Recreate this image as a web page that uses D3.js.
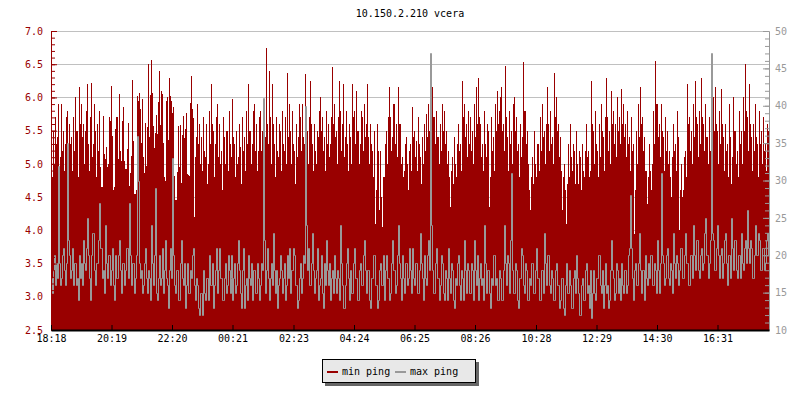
<!DOCTYPE html>
<html><head><meta charset="utf-8">
<script src="https://cdn.jsdelivr.net/npm/d3@7"></script>
<style>
body{margin:0;background:#fff;}
text{font-family:"DejaVu Sans Mono",monospace;font-size:10px;}
</style></head>
<body><svg id="c" width="800" height="400"></svg>
<script>
const title = "10.150.2.210 vcera";
const seriesNames = ["min ping", "max ping"];
const startTime = "18:18";
const spanMinutes = 1436;
const xTickLabels = ["18:18","20:19","22:20","00:21","02:23","04:24","06:25","08:26","10:28","12:29","14:30","16:31"];
const leftTicks = [2.5,3.0,3.5,4.0,4.5,5.0,5.5,6.0,6.5,7.0];
const rightTicks = [10,15,20,25,30,35,40,45,50];

const minPing = [
5.2,4.8,5.5,5.0,5.7,5.3,5.4,5.9,4.7,5.1,5.9,5.2,5.5,4.9,5.3,5.7,5.8,5.1,5.6,5.3,5.4,4.9,5.7,5.2,6.0,5.5,5.5,4.8,6.15,5.6,
5.9,5.4,5.6,5.0,5.5,5.8,6.2,5.3,4.9,5.7,6.22,5.1,5.3,5.9,5.5,4.8,5.6,5.2,5.8,
4.95,4.65,4.65,5.72,5.15,5.07,5.25,4.95,5.0,5.7,
5.65,6.17,5.42,4.6,4.65,5.52,5.7,5.7,5.07,6.05,
5.2,5.05,5.65,5.86,5.05,4.92,4.92,5.22,5.62,4.67,
4.87,5.12,6.26,5.35,4.55,4.55,4.6,6.02,5.94,6.07,
5.82,5.32,5.97,5.1,4.87,5.61,4.97,5.55,6.51,5.4,
6.04,6.56,6.07,5.57,5.24,5.46,5.74,5.45,5.93,6.4,
5.59,6.1,6.05,5.31,4.8,4.75,5.94,6.01,5.36,6.3,
6.02,5.95,5.77,5.85,4.82,4.45,4.45,4.88,5.57,4.96,
5.59,4.71,5.43,5.72,5.39,5.52,5.76,4.85,4.84,4.82,
5.91,6.32,5.83,5.69,4.2,5.1,5.4,5.9,5.3,5.6,
5.0,
5.4,4.9,5.7,5.2,5.1,5.6,4.7,5.0,5.8,5.3,6.2,5.6,5.5,4.8,5.3,5.7,5.9,5.1,5.6,5.0,5.2,4.6,5.7,5.4,5.0,5.5,5.5,4.9,5.8,5.3,
5.6,5.1,5.97,5.4,5.3,4.8,5.5,5.0,5.1,5.6,5.25,4.7,5.7,5.2,5.4,4.9,5.8,5.3,6.2,5.5,5.5,5.0,5.3,5.8,5.9,5.2,5.6,4.9,5.2,5.7,
5.8,5.2,5.5,4.9,5.9,5.4,6.75,5.6,5.3,6.4,5.7,5.0,6.2,5.6,5.3,4.8,5.7,5.2,5.1,5.6,5.5,4.9,5.8,5.3,5.2,5.7,5.0,6.37,5.4,5.9,
5.5,5.0,5.8,5.3,5.2,4.7,5.6,5.1,5.4,5.9,5.7,5.2,5.9,5.4,5.3,6.35,5.8,5.5,5.0,5.7,6.25,5.6,5.3,4.9,5.6,5.2,5.0,5.5,5.4,5.8,
6.0,5.5,5.7,5.2,5.4,4.9,5.8,5.3,5.6,5.1,5.3,5.7,6.46,5.6,5.9,5.4,5.5,5.0,5.7,6.25,5.8,5.2,5.6,6.2,5.1,5.4,5.8,5.3,4.9,5.6,
5.4,5.0,6.2,5.7,5.8,5.3,6.1,5.5,5.5,5.0,5.3,5.8,5.7,5.2,5.9,5.4,5.6,6.2,5.4,5.0,5.6,5.3,5.2,4.8,5.5,4.1,4.6,5.6,5.2,4.3,
5.2,4.5,4.05,4.8,4.8,5.3,5.5,5.0,5.7,6.15,5.7,5.2,5.4,5.9,5.9,5.3,5.6,5.1,6.15,5.6,5.6,5.0,5.1,4.8,4.9,5.3,5.4,5.0,4.6,5.2,
5.3,4.9,5.85,5.4,5.5,5.1,5.35,4.9,5.7,5.3,5.1,4.7,5.4,5.0,5.6,5.2,5.75,5.4,5.9,5.5,5.5,5.1,6.15,5.7,5.7,5.3,5.8,5.4,5.4,5.0,
5.6,5.2,5.9,5.5,5.8,5.3,5.5,5.0,5.2,4.8,4.35,4.9,5.1,4.7,5.4,5.0,4.8,5.3,5.6,5.2,5.3,4.9,6.25,5.7,5.9,5.4,5.6,5.1,5.8,5.3,
5.7,5.2,5.5,5.0,5.9,5.4,6.15,5.6,6.3,5.7,5.6,5.1,5.3,4.9,5.8,5.3,5.1,5.6,5.5,4.35,4.8,5.7,5.2,5.4,4.9,5.9,5.5,6.1,5.6,5.8,
6.0,6.15,5.5,5.6,5.2,6.47,5.7,5.4,4.9,5.8,5.3,5.5,5.0,5.9,6.0,5.5,5.7,5.2,5.3,4.8,5.6,5.1,5.4,6.53,5.8,5.8,5.3,5.5,5.0,4.6,
4.3,4.8,5.1,4.7,5.5,5.0,4.8,5.3,5.3,4.9,5.7,5.2,5.9,5.4,5.5,5.0,5.6,6.15,5.6,5.2,5.8,5.3,5.4,5.0,6.37,5.7,6.0,5.5,5.6,5.1,
5.4,4.9,4.3,4.8,5.0,4.6,4.1,4.7,5.3,4.8,5.6,5.1,4.9,5.3,5.2,4.7,5.5,5.0,4.7,5.2,5.1,4.6,5.3,4.9,4.8,5.2,5.6,5.1,5.2,4.8,
5.3,4.9,6.25,5.6,5.5,5.0,5.8,5.3,5.2,4.8,5.6,5.1,5.9,5.5,5.4,4.9,5.7,6.3,5.7,5.2,5.5,5.0,6.1,5.6,5.8,5.3,5.6,5.1,6.0,5.5,
5.7,5.3,6.12,5.6,5.9,5.4,5.6,5.1,5.8,5.3,5.4,4.9,5.7,5.2,5.3,3.95,4.6,5.5,5.0,5.9,5.4,6.15,5.6,5.7,5.2,5.4,4.9,4.9,4.4,4.8,
5.3,4.9,4.6,5.0,5.8,5.3,6.55,5.9,5.9,5.4,5.6,5.1,5.9,5.5,5.4,4.9,5.7,5.2,5.5,5.0,5.2,4.8,4.5,5.1,5.6,5.2,5.3,4.9,5.8,5.4,
4.0,4.6,5.0,4.5,4.6,5.1,5.2,4.8,6.2,5.6,5.7,5.2,5.5,5.0,5.9,5.4,6.25,5.7,5.6,5.1,5.8,5.3,6.3,5.7,5.6,5.2,5.9,5.4,5.4,5.0,
5.7,5.2,5.9,5.4,6.0,5.5,6.15,5.6,5.5,5.0,5.8,5.3,6.12,5.6,5.4,4.9,5.6,5.2,5.3,4.8,5.9,5.4,4.7,5.1,6.0,5.5,5.5,5.0,5.2,4.8,
5.8,5.3,5.5,5.0,6.0,5.5,6.5,5.8,5.7,5.2,6.2,5.6,5.4,4.9,5.6,5.2,5.9,5.4,5.3,4.8,5.8,5.3,5.5,5.0,5.7,5.2,5.3,4.9,5.6,5.5
];
const maxPing = [
17,15,18,20,16,19,17,32,19,16,17,20,21,18,16,19,35,22,20,17,18,21,16,19,19,16,17,14,20,17,
19,16,22,19,18,21,25,20,17,14,20,23,23,18,16,19,19,22,27,21,21,17,18,15,24,19,17,20,20,16,
18,21,16,14,20,17,17,20,22,18,15,19,19,16,18,21,21,17,27,20,16,19,19,15,17,20,36,30,19,17,
18,15,16,19,21,17,15,18,17,14,24,19,16,20,29,15,14,17,20,16,17,21,15,18,22,17,16,13,18,21,
17,33,20,16,15,18,18,14,14,19,22,17,16,19,13,16,19,15,15,18,17,20,21,16,14,17,16,13,12,15,
15,12,18,15,14,17,17,14,20,16,16,19,13,16,18,21,15,18,21,17,17,14,14,17,19,15,16,20,18,15,
17,20,14,17,19,15,16,19,22,18,15,13,18,21,13,16,17,14,20,17,16,19,14,18,18,15,15,19,17,14,
16,19,18,41,22,15,18,21,17,14,17,19,16,23,18,15,18,13,16,17,20,18,15,17,19,14,16,20,17,21,
15,18,18,21,20,16,16,13,14,17,19,15,17,20,19,40,24,18,21,16,16,19,23,18,15,17,18,21,14,16,
17,20,15,13,19,16,22,18,16,19,14,17,18,15,20,17,15,18,17,14,24,19,16,13,13,16,19,21,17,14,
18,15,15,19,21,17,17,14,14,18,19,16,16,20,22,18,15,18,18,14,13,17,17,20,20,16,16,13,14,18,
19,16,16,20,14,18,20,17,17,14,15,19,22,18,18,15,16,20,24,19,17,14,20,17,15,19,19,16,17,21,
18,15,21,17,16,19,19,15,15,18,23,19,17,14,20,17,16,20,22,18,47,24,18,15,15,19,21,17,17,14,
16,20,19,15,14,18,17,14,21,17,15,19,18,14,13,17,16,19,20,16,14,18,17,14,22,18,15,19,18,15,
15,19,18,14,22,18,16,20,14,17,19,16,17,14,24,19,15,18,18,15,13,17,16,20,20,16,17,14,14,18,
17,14,14,18,24,19,16,20,19,15,22,31,18,15,15,19,18,14,13,17,17,21,20,16,15,19,18,14,14,17,
16,19,19,15,15,18,21,17,17,14,14,18,18,15,23,19,16,20,20,16,15,18,17,14,14,18,19,16,16,13,
14,17,17,13,12,16,19,15,15,18,16,13,13,17,18,15,20,17,15,12,12,16,17,14,14,18,19,15,16,13,
15,18,11.6,15,18,15,14,17,17,20,20,16,15,18,13,16,19,15,16,13,14,18,22,18,17,14,15,19,18,15,
17,14,19,16,15,18,18,15,16,20,21,28,21,17,14,18,19,16,16,19,23,18,15,18,18,14,20,17,16,19,
17,20,20,16,16,19,18,15,22,18,15,19,31,20,19,16,17,20,21,17,16,19,18,15,23,19,17,20,19,16,
18,21,21,17,17,20,23,19,19,16,16,20,20,17,24,20,18,22,22,18,17,20,21,18,19,23,25,20,20,17,
19,22,47,23,22,18,18,21,24,20,17,20,21,17,19,22,23,19,16,20,20,17,25,21,18,22,22,18,17,20,
20,17,23,19,18,21,22,19,26,21,19,22,21,17,17,20,24,20,20,23,22,18,18,21,21,18,19,22,23,20
];

const svg = d3.select("#c");
const L = 51, R = 769, T = 31, B = 330;
const RED = "#990000", GRAY = "#999999";

const parseHM = d3.timeParse("%Y-%m-%d %H:%M");
const t0 = parseHM("2000-01-01 " + startTime);
const t1 = d3.timeMinute.offset(t0, spanMinutes);
const x = d3.scaleTime().domain([t0, t1]).range([L, R]);
const yL = d3.scaleLinear().domain([2.5, 7]).range([B, T]);
const yR = d3.scaleLinear().domain([10, 50]).range([B, T]);

const n = minPing.length;
const stepMin = spanMinutes / n;
const times = d3.range(n + 1).map(i => new Date(t0.getTime() + i * stepMin * 60000));
const redPts = minPing.map((v, i) => ({t: times[i], v})).concat([{t: times[n], v: minPing[n-1]}]);
const grayPts = maxPing.map((v, i) => ({t: times[i], v})).concat([{t: times[n], v: maxPing[n-1]}]);

let day = 1, prev = -1;
const tickTimes = xTickLabels.map(s => {
  const [h, m] = s.split(":").map(Number);
  const mm = h * 60 + m;
  if (prev >= 0 && mm < prev) day++;
  prev = mm;
  return parseHM("2000-01-0" + day + " " + s);
});

svg.append("text").attr("x", (L + R) / 2).attr("y", 17).attr("text-anchor", "middle").attr("fill", "#000").text(title);

svg.append("g").selectAll("line").data(leftTicks.filter(v => v > 2.5)).join("line")
  .attr("x1", L).attr("x2", R).attr("y1", d => Math.round(yL(d)) + 0.5).attr("y2", d => Math.round(yL(d)) + 0.5)
  .attr("stroke", "#c0c0c0").attr("stroke-width", 1);

svg.append("clipPath").attr("id", "pc").append("rect").attr("x", L).attr("y", T - 5).attr("width", R - L).attr("height", B - T + 5);

const px = d => Math.round(x(d.t));

svg.append("path").datum(redPts)
  .attr("clip-path", "url(#pc)")
  .attr("d", d3.area().x(px).y0(B).y1(d => Math.round(yL(d.v))).curve(d3.curveStepAfter))
  .attr("fill", RED);

svg.append("path").datum(grayPts)
  .attr("clip-path", "url(#pc)")
  .attr("d", d3.line().x(d => px(d) + 0.5).y(d => Math.round(yR(d.v)) + 0.5).curve(d3.curveStepAfter))
  .attr("fill", "none").attr("stroke", GRAY).attr("stroke-width", 1);

const minorL = d3.range(25, 71).map(v => v / 10);
const gLm = svg.append("g").attr("transform", `translate(${L},0)`)
  .call(d3.axisLeft(yL).tickValues(minorL).tickSizeInner(-4).tickSizeOuter(0).tickFormat(""));
const gL = svg.append("g").attr("transform", `translate(${L},0)`)
  .call(d3.axisLeft(yL).tickValues(leftTicks).tickSizeInner(-6).tickSizeOuter(0).tickPadding(8).tickFormat(d3.format(".1f")));
[gLm, gL].forEach(g => { g.selectAll("line,path").attr("stroke", RED); });
gL.selectAll("text").attr("fill", RED).style("font-family", "DejaVu Sans Mono").style("font-size", "10px");

const minorR = d3.range(10, 51);
const gRm = svg.append("g").attr("transform", `translate(${R},0)`)
  .call(d3.axisRight(yR).tickValues(minorR).tickSizeInner(-4).tickSizeOuter(0).tickFormat(""));
const gR = svg.append("g").attr("transform", `translate(${R},0)`)
  .call(d3.axisRight(yR).tickValues(rightTicks).tickSizeInner(-6).tickSizeOuter(0).tickPadding(6));
[gRm, gR].forEach(g => { g.selectAll("line,path").attr("stroke", GRAY); });
gR.selectAll("text").attr("fill", GRAY).style("font-family", "DejaVu Sans Mono").style("font-size", "10px");

const gB = svg.append("g").attr("transform", `translate(0,${B})`)
  .call(d3.axisBottom(x).tickValues(tickTimes).tickSizeInner(-5).tickSizeOuter(0).tickPadding(5)
    .tickFormat((d, i) => xTickLabels[i]));
gB.selectAll("line,path").attr("stroke", "#000");
gB.select(".domain").attr("stroke-width", 2);
gB.selectAll("text").attr("fill", "#000").style("font-family", "DejaVu Sans Mono").style("font-size", "10px");

const lg = svg.append("g");
lg.append("rect").attr("x", 325).attr("y", 362).attr("width", 154).attr("height", 24).attr("fill", "#666");
lg.append("rect").attr("x", 322.5).attr("y", 359.5).attr("width", 153).attr("height", 23).attr("fill", "#e8e8e8").attr("stroke", "#000");
const items = [{name: seriesNames[0], color: RED, x: 327}, {name: seriesNames[1], color: GRAY, x: 395}];
items.forEach(it => {
  lg.append("line").attr("x1", it.x).attr("x2", it.x + 11).attr("y1", 372).attr("y2", 372).attr("stroke", it.color).attr("stroke-width", 2);
  lg.append("text").attr("x", it.x + 15).attr("y", 375).attr("fill", "#000").text(it.name);
});
</script></body></html>
